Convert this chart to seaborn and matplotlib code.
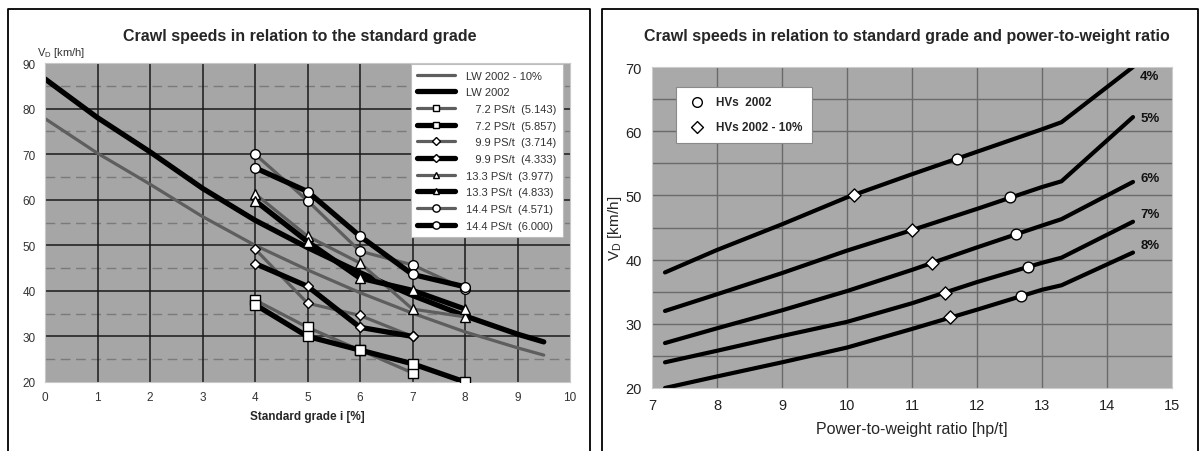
import matplotlib
matplotlib.use("Agg")
import matplotlib.pyplot as plt
import seaborn as sns
from matplotlib.lines import Line2D
from matplotlib.ticker import MultipleLocator

# ---- left panel: crawl speed vs. standard grade ----
grade_curve = [0, 1, 2, 3, 4, 5, 6, 7, 8, 9, 9.5]
lw2002 = [86.5, 78.0, 70.5, 62.5, 55.5, 49.5, 44.0, 39.0, 34.5, 30.5, 28.8]
lw2002_minus10 = [77.8, 70.2, 63.4, 56.3, 50.0, 44.6, 39.6, 35.1, 31.0, 27.5, 25.9]

grades = [4, 5, 6, 7, 8]
ps72_a = [38.0, 32.0, 27.0, 22.0, None]
ps72_b = [37.0, 30.0, 27.0, 24.0, 20.0]
ps99_a = [49.2, 37.3, 34.6, 30.0, None]
ps99_b = [46.0, 41.0, 32.0, 30.0, None]
ps133_a = [61.3, 52.0, 46.1, 36.0, 34.3]
ps133_b = [59.8, 50.8, 42.8, 40.1, 36.0]
ps144_a = [70.0, 59.8, 48.7, 45.7, 40.4]
ps144_b = [67.0, 61.8, 52.0, 43.6, 40.9]

series_labels = ["   7.2 PS/t  (5.143)", "   7.2 PS/t  (5.857)",
                 "   9.9 PS/t  (3.714)", "   9.9 PS/t  (4.333)",
                 "13.3 PS/t  (3.977)", "13.3 PS/t  (4.833)",
                 "14.4 PS/t  (4.571)", "14.4 PS/t  (6.000)"]

# ---- right panel: crawl speed vs. power-to-weight ratio ----
ratio = [7.2, 8, 9, 10, 11, 12, 13, 13.3, 14.4]
grade4 = [38.0, 41.5, 45.5, 49.7, 53.3, 56.8, 60.3, 61.4, 70.0]
grade5 = [32.0, 34.6, 37.9, 41.4, 44.6, 47.9, 51.3, 52.2, 62.2]
grade6 = [27.0, 29.3, 32.1, 35.1, 38.4, 41.9, 45.3, 46.3, 52.1]
grade7 = [24.0, 25.8, 28.1, 30.3, 33.2, 36.5, 39.5, 40.3, 45.9]
grade8 = [20.0, 21.8, 24.0, 26.3, 29.2, 32.2, 35.3, 36.0, 41.1]
grade_names = ["4%", "5%", "6%", "7%", "8%"]
grade_label_y = [68.6, 62.1, 52.7, 47.1, 42.2]

hvs_x = [11.69, 12.51, 12.60, 12.78, 12.68]
hvs_y = [55.7, 49.7, 44.0, 38.8, 34.3]
hvs10_x = [10.10, 11.00, 11.31, 11.51, 11.58]
hvs10_y = [50.1, 44.6, 39.5, 34.8, 31.0]

sns.set_style("white")
plt.rcParams["font.family"] = ["Liberation Sans", "DejaVu Sans"]
plt.rcParams["mathtext.fontset"] = "custom"
plt.rcParams["mathtext.rm"] = "Liberation Sans"

fig = plt.figure(figsize=(12, 4.52), dpi=100)
W, H = 1200, 452

# panel frames
for x0, x1 in [(8, 590), (602, 1198)]:
    fig.add_artist(Line2D([x0 / W, x0 / W, x1 / W, x1 / W],
                          [0, 1 - 10 / H, 1 - 10 / H, 0],
                          color="black", lw=1.3, transform=fig.transFigure))

bg = "#a6a6a6"
gray_line = "#5e5e5e"

# ================= left =================
ax1 = fig.add_axes([45 / W, (H - 383) / H, 525 / W, 319 / H])
ax1.set_facecolor(bg)
ax1.set_xlim(0, 10)
ax1.set_ylim(20, 90)
for y in [25, 35, 45, 55, 65, 75, 85]:
    ax1.axhline(y, color="#7a7a7a", lw=1, dashes=(7, 4), zorder=0.5)
for y in range(30, 90, 10):
    ax1.axhline(y, color="#1a1a1a", lw=1.1, zorder=0.6)
for x in range(1, 10):
    ax1.axvline(x, color="#1a1a1a", lw=1.1, zorder=0.6)

sns.lineplot(x=grade_curve, y=lw2002_minus10, ax=ax1, color=gray_line, lw=2.3,
             label="LW 2002 - 10%")
sns.lineplot(x=grade_curve, y=lw2002, ax=ax1, color="black", lw=3.8,
             label="LW 2002")

series = [ps72_a, ps72_b, ps99_a, ps99_b, ps133_a, ps133_b, ps144_a, ps144_b]
markers = ["s", "s", "D", "D", "^", "^", "o", "o"]
msizes = [6.5, 6.5, 5, 5, 6.5, 6.5, 7, 7]
for i, vals in enumerate(series):
    thick = i % 2 == 1
    xs = [g for g, v in zip(grades, vals) if v is not None]
    ys = [v for v in vals if v is not None]
    sns.lineplot(x=xs, y=ys, ax=ax1,
                 color="black" if thick else gray_line,
                 lw=3.8 if thick else 2.3,
                 marker=markers[i], markersize=msizes[i],
                 markerfacecolor="white", markeredgecolor="black",
                 markeredgewidth=1.0, label=series_labels[i], zorder=3)

ax1.set_xticks(range(0, 11))
ax1.set_yticks(range(20, 91, 10))
ax1.tick_params(labelsize=8.5, colors="#333333", length=3, direction="out")
for sp in ax1.spines.values():
    sp.set_color("#c8c8c8")
    sp.set_linewidth(0.8)
ax1.set_xlabel("Standard grade i [%]", fontsize=8.5, fontweight="bold", labelpad=5)
ax1.set_ylabel("")
fig.text(37 / W, 1 - 53 / H, "V$_\\mathrm{D}$ [km/h]", fontsize=8,
         color="#333333", ha="left", va="center")
fig.text(300 / W, 1 - 37 / H, "Crawl speeds in relation to the standard grade",
         fontsize=11.5, fontweight="bold", ha="center", va="center")

h, l = ax1.get_legend_handles_labels()
leg = ax1.legend(h, l, loc="upper right", bbox_to_anchor=(0.987, 0.997),
                 borderaxespad=0, fontsize=8, labelspacing=0.6,
                 handlelength=3.4, markerscale=0.75, fancybox=False,
                 framealpha=1, edgecolor="#bdbdbd", borderpad=0.6,
                 handletextpad=1.0)
for t in leg.get_texts():
    t.set_color("#333333")
leg.get_frame().set_linewidth(0.8)

# ================= right =================
ax2 = fig.add_axes([652 / W, (H - 389) / H, 520 / W, 321 / H])
ax2.set_facecolor("#a9a9a9")
ax2.set_xlim(7, 15)
ax2.set_ylim(20, 70)
for y in range(25, 70, 5):
    ax2.axhline(y, color="#6a6a6a", lw=1, zorder=0.5)
for x in range(8, 15):
    ax2.axvline(x, color="#6a6a6a", lw=1, zorder=0.5)

for vals in [grade4, grade5, grade6, grade7, grade8]:
    sns.lineplot(x=ratio, y=vals, ax=ax2, color="black", lw=3.0, zorder=2)
for name, y in zip(grade_names, grade_label_y):
    ax2.text(14.66, y, name, fontsize=9.5, fontweight="bold",
             ha="center", va="center", color="#111111")

sns.scatterplot(x=hvs_x, y=hvs_y, ax=ax2, marker="o", s=60, color="white",
                edgecolor="black", linewidth=1.0, zorder=4, label="HVs  2002")
sns.scatterplot(x=hvs10_x, y=hvs10_y, ax=ax2, marker="D", s=45, color="white",
                edgecolor="black", linewidth=1.0, zorder=4, label="HVs 2002 - 10%")

ax2.set_xticks(range(7, 16))
ax2.set_yticks(range(20, 71, 10))
ax2.xaxis.set_minor_locator(MultipleLocator(0.1))
ax2.tick_params(which="major", labelsize=10.5, colors="#222222", length=4,
                direction="out")
ax2.tick_params(which="minor", axis="x", length=2.5, color="#444444",
                direction="out")
ax2.tick_params(axis="y", which="minor", length=0)
for sp in ax2.spines.values():
    sp.set_color("#cccccc")
    sp.set_linewidth(0.8)
ax2.set_xlabel("Power-to-weight ratio [hp/t]", fontsize=11.5, labelpad=6)
ax2.set_ylabel("V$_\\mathrm{D}$ [km/h]", fontsize=11, labelpad=1)
fig.text(907 / W, 1 - 37 / H,
         "Crawl speeds in relation to standard grade and power-to-weight ratio",
         fontsize=11.5, fontweight="bold", ha="center", va="center")

leg2 = ax2.legend(loc="upper left", bbox_to_anchor=(0.046, 0.938),
                  borderaxespad=0, fontsize=8.5, fancybox=False, framealpha=1,
                  edgecolor="#8a8a8a", handletextpad=0.6, labelspacing=1.1,
                  borderpad=0.8, markerscale=0.9)
for t in leg2.get_texts():
    t.set_fontweight("bold")
leg2.get_frame().set_linewidth(0.8)

fig.savefig("out.png", dpi=100)
